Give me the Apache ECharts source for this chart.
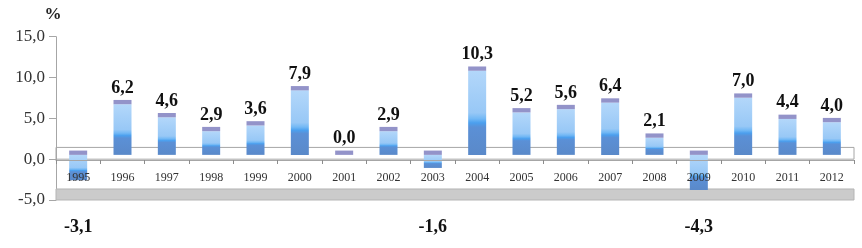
<!DOCTYPE html>
<html>
<head>
<meta charset="utf-8">
<script src="https://cdn.jsdelivr.net/npm/echarts@6/dist/echarts.min.js"></script>
<style>
html,body{margin:0;padding:0;background:#fff;}
#chart{width:862px;height:248px;}
</style>
</head>
<body>
<div id="chart"></div>
<script>
var years = ['1995','1996','1997','1998','1999','2000','2001','2002','2003','2004','2005','2006','2007','2008','2009','2010','2011','2012'];
var growth = [-3.1, 6.2, 4.6, 2.9, 3.6, 7.9, 0.0, 2.9, -1.6, 10.3, 5.2, 5.6, 6.4, 2.1, -4.3, 7.0, 4.4, 4.0];
var yTicks = [-5, 15, 5]; // min, max, interval

var chart = echarts.init(document.getElementById('chart'));

var barFill = new echarts.graphic.LinearGradient(0, 0, 0, 1, [
    {offset: 0, color: '#b3d7fa'},
    {offset: 0.5, color: '#98c8f6'},
    {offset: 0.57, color: '#72b8f5'},
    {offset: 0.62, color: '#4b9fee'},
    {offset: 0.67, color: '#5b90d6'},
    {offset: 1, color: '#5a89c9'}
]);

function fmt(v){
    return v.toFixed(1).replace('.', ',');
}

function renderBar(params, api){
    var i = api.value(0), v = api.value(1);
    var base = api.coord([i, 0]);
    var top = api.coord([i, v]);
    var w = 18, lift = 4.3, capH = 4.3;
    var x = base[0] - w / 2;
    var yTop = Math.min(base[1], top[1]) - lift;
    var yBot = Math.max(base[1], top[1]) - lift;
    var children = [];
    if (yBot - yTop > 0.5) {
        children.push({type: 'rect', shape: {x: x, y: yTop, width: w, height: yBot - yTop}, style: {fill: barFill}});
    }
    children.push({type: 'rect', shape: {x: x, y: yTop - capH, width: w, height: capH}, style: {fill: '#9393c9'}});
    var ly = v >= 0 ? yTop - capH - 3 : api.coord([i, yTicks[0]])[1] + 27;
    children.push({
        type: 'text',
        style: {
            text: fmt(v), x: base[0], y: ly,
            align: 'center', verticalAlign: v >= 0 ? 'bottom' : 'middle',
            fontFamily: 'Liberation Serif', fontWeight: 'bold', fontSize: 18, fill: '#111'
        }
    });
    return {type: 'group', children: children};
}

var option = {
    animation: false,
    grid: [
        {left: 56, right: 8, top: 36.7, bottom: 48},
        // second grid whose bottom edge is the zero line, carries the year axis
        {left: 56, right: 8, top: 36.7, bottom: 88}
    ],
    xAxis: [
        {
            type: 'category', gridIndex: 0, data: years,
            axisLine: {show: false}, axisTick: {show: false}, axisLabel: {show: false}
        },
        {
            type: 'category', gridIndex: 1, data: years, position: 'bottom',
            z: 10,
            axisLine: {show: true, onZero: false, lineStyle: {color: '#a6a6a6'}},
            axisTick: {show: true, length: 4, lineStyle: {color: '#8c8c8c'}},
            axisLabel: {margin: 12, fontFamily: 'Liberation Serif', fontSize: 12, color: '#333'}
        }
    ],
    yAxis: [
        {
            type: 'value', gridIndex: 0,
            min: yTicks[0], max: yTicks[1], interval: yTicks[2],
            name: '%',
            nameLocation: 'end',
            nameGap: 14,
            nameTextStyle: {fontFamily: 'Liberation Serif', fontWeight: 'bold', fontSize: 17, color: '#222', align: 'center', padding: [0, 6, 0, 0]},
            axisLine: {show: true, lineStyle: {color: '#a6a6a6'}},
            axisTick: {show: true, length: 7, lineStyle: {color: '#a6a6a6'}},
            splitLine: {show: false},
            axisLabel: {
                margin: 11, fontFamily: 'Liberation Serif', fontSize: 17, color: '#333',
                formatter: function(v){ return fmt(v); }
            }
        },
        {
            type: 'value', gridIndex: 1, min: 0, max: 1,
            show: false
        }
    ],
    series: [
        {
            type: 'line',
            xAxisIndex: 0, yAxisIndex: 0,
            data: [],
            silent: true,
            markArea: {
                silent: true,
                data: [
                    [{yAxis: -3.65, itemStyle: {color: '#cbcbcb', borderColor: '#b5b5b5', borderWidth: 1}}, {yAxis: -5}],
                    [{yAxis: 0, itemStyle: {color: 'rgba(0,0,0,0)', borderColor: '#a6a6a6', borderWidth: 1}}, {yAxis: 1.44}]
                ]
            }
        },
        {
            type: 'custom',
            xAxisIndex: 0, yAxisIndex: 0,
            renderItem: renderBar,
            encode: {x: 0, y: 1},
            data: growth.map(function(v, i){ return [i, v]; })
        }
    ]
};
chart.setOption(option);
</script>
</body>
</html>
